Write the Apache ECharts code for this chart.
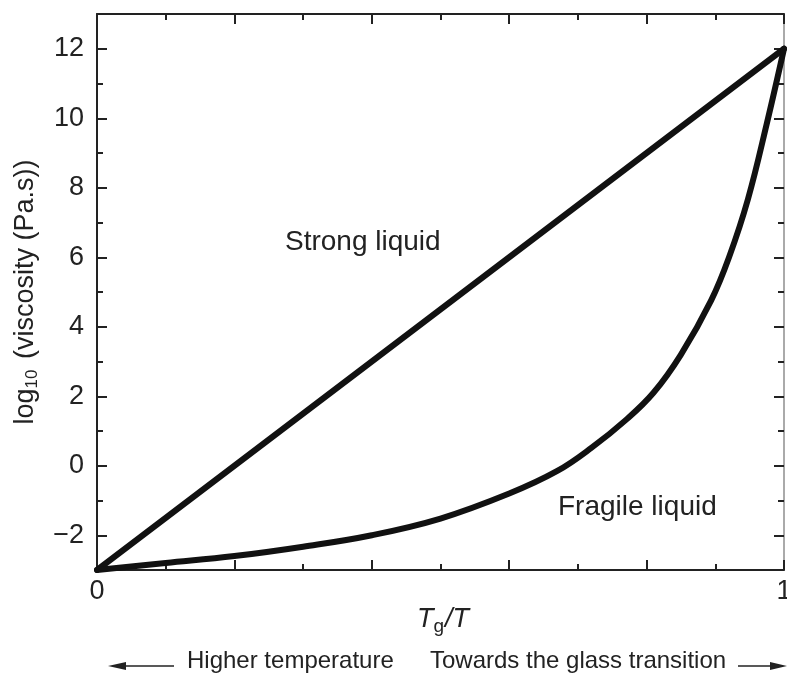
<!DOCTYPE html>
<html>
<head>
<meta charset="utf-8">
<script src="https://cdn.jsdelivr.net/npm/echarts@6/dist/echarts.min.js"></script>
<style>html,body{margin:0;padding:0;background:#fff}#c{width:787px;height:677px}</style>
</head>
<body>
<div id="c"></div>
<script>
const strongX = [0, 1];
const strongY = [-3, 12];
const fragileX = [0, 0.1, 0.2, 0.3, 0.4, 0.5, 0.6, 0.67, 0.72, 0.77, 0.81, 0.85, 0.894, 0.92, 0.9475, 0.975, 1];
const fragileY = [-3, -2.8, -2.6, -2.33, -2.0, -1.52, -0.8, -0.15, 0.52, 1.32, 2.1, 3.2, 4.76, 6.0, 7.67, 9.85, 12];
const yMajor = [-2, 0, 2, 4, 6, 8, 10, 12];
const yMinor = [-3, -1, 1, 3, 5, 7, 9, 11, 13];
const xLabels = [0, 1];

const FONT = '"Liberation Sans", Arial, sans-serif';
const INK = '#222';
const FS = 27;
const chart = echarts.init(document.getElementById('c'));

function yAx(pos, vals, len, showLine, showLabel, lineColor) {
  return {
    type: 'value', position: pos, min: -3, max: 13, interval: 1,
    axisLine: { show: showLine, onZero: false, lineStyle: { color: lineColor || INK, width: 2 } },
    axisTick: { show: true, inside: true, length: len, customValues: vals, lineStyle: { color: INK, width: 2 } },
    axisLabel: { show: showLabel, customValues: yMajor, color: INK, fontSize: FS, fontFamily: FONT, margin: 13,
      formatter: v => (v < 0 ? '\u2212' + Math.abs(v) : '' + v) },
    splitLine: { show: false }
  };
}

const yAxes = [yAx('left', yMajor, 10, true, true), yAx('left', yMinor, 6, false, false),
  yAx('right', yMajor, 10, true, false, '#aaa'), yAx('right', yMinor, 6, false, false)];
yAxes[0].name = 'log{s|10} (viscosity (Pa.s))';
yAxes[0].nameLocation = 'middle';
yAxes[0].nameGap = 56;
yAxes[0].nameTextStyle = { fontSize: FS, color: INK, fontFamily: FONT,
  rich: { s: { fontSize: 17, verticalAlign: 'bottom', padding: [14, 3, 0, 0], fontFamily: FONT, color: INK } } };

function xAx(pos, showLabel) {
  return {
    type: 'value', position: pos, min: 0, max: 1, interval: 0.2,
    axisLine: { show: true, onZero: false, lineStyle: { color: INK, width: 2 } },
    axisTick: { show: true, inside: true, length: 10, lineStyle: { color: INK, width: 2 } },
    minorTick: { show: true, splitNumber: 2, length: 6, lineStyle: { color: INK, width: 2 } },
    axisLabel: { show: showLabel, customValues: xLabels, color: INK, fontSize: FS, fontFamily: FONT, margin: 8 },
    splitLine: { show: false }
  };
}

const lineStyle = { color: '#111', width: 6, cap: 'round', join: 'round' };

chart.setOption({
  animation: false,
  backgroundColor: '#fff',
  grid: { left: 97, right: 3, top: 14, bottom: 107, containLabel: false, outerBoundsMode: 'none' },
  xAxis: [xAx('bottom', true), xAx('top', false)],
  yAxis: yAxes,
  series: [
    { type: 'line', xAxisIndex: 0, yAxisIndex: 0, showSymbol: false, lineStyle: lineStyle,
      data: strongX.map((x, i) => [x, strongY[i]]) },
    { type: 'line', xAxisIndex: 0, yAxisIndex: 0, showSymbol: false, smooth: 0.4, lineStyle: lineStyle,
      data: fragileX.map((x, i) => [x, fragileY[i]]) }
  ],
  graphic: [
    { type: 'text', left: 285, top: 228, style: { text: 'Strong liquid', fontSize: 28, fontFamily: FONT, fill: INK } },
    { type: 'text', left: 558, top: 493, style: { text: 'Fragile liquid', fontSize: 28, fontFamily: FONT, fill: INK } },
    { type: 'text', left: 417, top: 606, style: { text: '{i|T}{g|g}{i|/T}', fontFamily: FONT, fill: INK,
      rich: { i: { fontSize: 27, fontStyle: 'italic', fontFamily: FONT, fill: INK },
              g: { fontSize: 19, fontFamily: FONT, fill: INK, verticalAlign: 'bottom', padding: [14, 1, 0, 0] } } } },
    { type: 'text', left: 187, top: 649, style: { text: 'Higher temperature', fontSize: 24, fontFamily: FONT, fill: INK } },
    { type: 'text', left: 430, top: 649, style: { text: 'Towards the glass transition', fontSize: 24, fontFamily: FONT, fill: INK } },
    { type: 'line', shape: { x1: 120, y1: 666, x2: 174, y2: 666 }, style: { stroke: INK, lineWidth: 1.5 } },
    { type: 'polygon', shape: { points: [[108, 666], [126, 662], [126, 670]] }, style: { fill: INK } },
    { type: 'line', shape: { x1: 738, y1: 666, x2: 772, y2: 666 }, style: { stroke: INK, lineWidth: 1.5 } },
    { type: 'polygon', shape: { points: [[787, 666], [770, 662], [770, 670]] }, style: { fill: INK } }
  ]
});
</script>
</body>
</html>
